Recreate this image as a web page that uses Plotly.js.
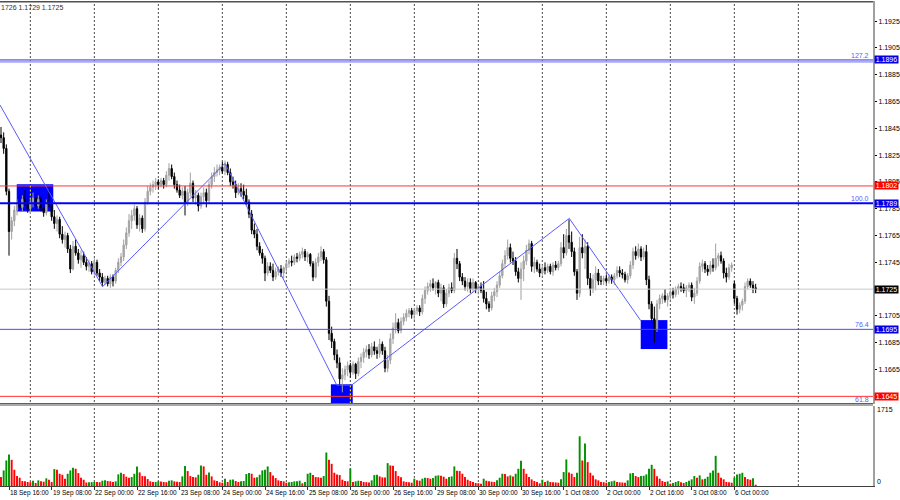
<!DOCTYPE html>
<html><head><meta charset="utf-8">
<script src="https://cdn.plot.ly/plotly-3.0.1.min.js"></script>
<style>html,body{margin:0;padding:0;background:#fff;}#chart{width:900px;height:500px;}</style>
</head><body><div id="chart"></div>
<script>
// ---- data (H1 bars, index 0 = 18 Sep 13:00) ----
const openP = [
1.1840,1.1838,1.1830,1.1798,1.1768,1.1776,1.1784,1.1789,1.1786,1.1792,
1.1790,1.1785,1.1790,1.1793,1.1787,1.1792,1.1786,1.1782,1.1789,1.1788,
1.1779,1.1774,1.1777,1.1766,1.1762,1.1765,1.1755,1.1740,1.1757,1.1752,
1.1747,1.1750,1.1745,1.1742,1.1744,1.1738,1.1745,1.1737,1.1734,1.1730,
1.1733,1.1729,1.1734,1.1731,1.1739,1.1745,1.1749,1.1758,1.1767,1.1776,
1.1780,1.1785,1.1773,1.1778,1.1770,1.1790,1.1798,1.1801,1.1803,1.1805,
1.1803,1.1806,1.1803,1.1810,1.1815,1.1809,1.1803,1.1799,1.1795,1.1798,
1.1790,1.1797,1.1804,1.1793,1.1795,1.1787,1.1794,1.1797,1.1791,1.1803,
1.1809,1.1812,1.1814,1.1816,1.1813,1.1818,1.1812,1.1805,1.1803,1.1797,
1.1800,1.1798,1.1795,1.1790,1.1781,1.1769,1.1766,1.1757,1.1752,1.1748,
1.1737,1.1742,1.1739,1.1734,1.1738,1.1740,1.1737,1.1741,1.1744,1.1746,
1.1745,1.1749,1.1748,1.1751,1.1753,1.1749,1.1751,1.1744,1.1734,1.1745,
1.1749,1.1753,1.1747,1.1716,1.1692,1.1686,1.1676,1.1670,1.1658,1.1661,
1.1665,1.1668,1.1663,1.1669,1.1662,1.1671,1.1674,1.1678,1.1680,1.1676,
1.1682,1.1679,1.1677,1.1684,1.1679,1.1666,1.1672,1.1688,1.1696,1.1700,
1.1694,1.1701,1.1704,1.1707,1.1709,1.1706,1.1709,1.1711,1.1708,1.1718,
1.1724,1.1727,1.1729,1.1726,1.1730,1.1722,1.1726,1.1714,1.1722,1.1726,
1.1724,1.1748,1.1744,1.1734,1.1731,1.1727,1.1730,1.1725,1.1730,1.1725,
1.1727,1.1724,1.1718,1.1714,1.1711,1.1720,1.1723,1.1728,1.1735,1.1744,
1.1750,1.1756,1.1748,1.1746,1.1738,1.1733,1.1740,1.1746,1.1754,1.1759,
1.1742,1.1745,1.1740,1.1737,1.1741,1.1739,1.1742,1.1738,1.1743,1.1741,
1.1744,1.1756,1.1752,1.1765,1.1760,1.1753,1.1738,1.1722,1.1756,1.1752,
1.1757,1.1733,1.1725,1.1732,1.1737,1.1731,1.1731,1.1733,1.1731,1.1734,
1.1732,1.1735,1.1739,1.1737,1.1736,1.1732,1.1735,1.1743,1.1753,1.1750,
1.1755,1.1749,1.1753,1.1732,1.1714,1.1703,1.1695,1.1714,1.1718,1.1720,
1.1717,1.1720,1.1723,1.1721,1.1725,1.1727,1.1726,1.1724,1.1726,1.1728,
1.1719,1.1722,1.1731,1.1742,1.1744,1.1740,1.1738,1.1743,1.1741,1.1748,
1.1750,1.1746,1.1737,1.1734,1.1741,1.1729,1.1718,1.1710,1.1713,1.1716,
1.1727,1.1731,1.1728,1.1726];
const highP = [
1.1846,1.1842,1.1833,1.1800,1.1779,1.1787,1.1792,1.1796,1.1795,1.1799,
1.1794,1.1793,1.1797,1.1796,1.1795,1.1794,1.1790,1.1792,1.1799,1.1791,
1.1784,1.1780,1.1779,1.1772,1.1768,1.1767,1.1758,1.1761,1.1762,1.1755,
1.1754,1.1753,1.1749,1.1747,1.1746,1.1748,1.1747,1.1740,1.1737,1.1735,
1.1735,1.1736,1.1736,1.1741,1.1748,1.1752,1.1762,1.1771,1.1781,1.1784,
1.1788,1.1787,1.1781,1.1780,1.1793,1.1802,1.1804,1.1806,1.1808,1.1807,
1.1808,1.1808,1.1813,1.1819,1.1818,1.1812,1.1806,1.1803,1.1801,1.1802,
1.1800,1.1812,1.1806,1.1799,1.1797,1.1797,1.1801,1.1800,1.1806,1.1812,
1.1816,1.1818,1.1818,1.1820,1.1821,1.1820,1.1815,1.1809,1.1806,1.1804,
1.1804,1.1803,1.1800,1.1792,1.1784,1.1774,1.1770,1.1760,1.1755,1.1750,
1.1745,1.1745,1.1744,1.1741,1.1742,1.1743,1.1742,1.1746,1.1748,1.1750,
1.1751,1.1752,1.1753,1.1756,1.1755,1.1753,1.1752,1.1746,1.1748,1.1752,
1.1757,1.1755,1.1749,1.1720,1.1697,1.1688,1.1680,1.1674,1.1666,1.1668,
1.1671,1.1670,1.1671,1.1670,1.1674,1.1677,1.1681,1.1683,1.1684,1.1685,
1.1686,1.1682,1.1688,1.1686,1.1682,1.1676,1.1692,1.1700,1.1707,1.1703,
1.1704,1.1707,1.1710,1.1711,1.1711,1.1711,1.1713,1.1713,1.1721,1.1727,
1.1730,1.1732,1.1733,1.1731,1.1732,1.1729,1.1728,1.1725,1.1729,1.1730,
1.1752,1.1755,1.1746,1.1737,1.1734,1.1733,1.1733,1.1733,1.1731,1.1729,
1.1730,1.1731,1.1723,1.1716,1.1723,1.1726,1.1731,1.1738,1.1747,1.1754,
1.1762,1.1759,1.1753,1.1749,1.1741,1.1745,1.1750,1.1758,1.1762,1.1761,
1.1749,1.1747,1.1744,1.1743,1.1745,1.1744,1.1744,1.1745,1.1746,1.1746,
1.1760,1.1766,1.1770,1.1777,1.1768,1.1756,1.1740,1.1764,1.1766,1.1762,
1.1760,1.1737,1.1736,1.1742,1.1740,1.1735,1.1735,1.1736,1.1736,1.1736,
1.1737,1.1742,1.1742,1.1740,1.1738,1.1737,1.1746,1.1756,1.1757,1.1759,
1.1757,1.1756,1.1758,1.1735,1.1716,1.1712,1.1717,1.1721,1.1722,1.1725,
1.1722,1.1726,1.1726,1.1727,1.1729,1.1730,1.1729,1.1728,1.1730,1.1730,
1.1726,1.1734,1.1745,1.1747,1.1746,1.1743,1.1746,1.1748,1.1759,1.1752,
1.1753,1.1748,1.1741,1.1744,1.1745,1.1731,1.1720,1.1715,1.1718,1.1730,
1.1733,1.1733,1.1731,1.1729];
const lowP = [
1.1834,1.1826,1.1795,1.1750,1.1762,1.1772,1.1780,1.1784,1.1783,1.1787,
1.1782,1.1781,1.1786,1.1784,1.1785,1.1783,1.1779,1.1780,1.1786,1.1776,
1.1770,1.1768,1.1763,1.1759,1.1756,1.1752,1.1737,1.1739,1.1750,1.1744,
1.1741,1.1743,1.1739,1.1738,1.1736,1.1735,1.1735,1.1731,1.1727,1.1728,
1.1727,1.1726,1.1727,1.1729,1.1737,1.1742,1.1746,1.1755,1.1764,1.1770,
1.1776,1.1770,1.1768,1.1767,1.1768,1.1788,1.1795,1.1797,1.1799,1.1800,
1.1801,1.1800,1.1801,1.1806,1.1807,1.1800,1.1797,1.1793,1.1792,1.1780,
1.1787,1.1794,1.1790,1.1788,1.1783,1.1785,1.1789,1.1786,1.1789,1.1800,
1.1805,1.1809,1.1810,1.1811,1.1810,1.1810,1.1802,1.1800,1.1793,1.1795,
1.1794,1.1792,1.1788,1.1778,1.1766,1.1763,1.1754,1.1750,1.1744,1.1731,
1.1735,1.1737,1.1731,1.1732,1.1735,1.1734,1.1733,1.1738,1.1741,1.1742,
1.1743,1.1745,1.1746,1.1748,1.1746,1.1745,1.1742,1.1731,1.1733,1.1742,
1.1746,1.1744,1.1712,1.1687,1.1681,1.1672,1.1666,1.1652,1.1648,1.1657,
1.1660,1.1659,1.1661,1.1658,1.1660,1.1666,1.1670,1.1674,1.1673,1.1674,
1.1676,1.1673,1.1674,1.1676,1.1663,1.1663,1.1669,1.1684,1.1692,1.1692,
1.1692,1.1698,1.1701,1.1704,1.1703,1.1702,1.1706,1.1705,1.1706,1.1714,
1.1721,1.1723,1.1724,1.1721,1.1719,1.1716,1.1711,1.1712,1.1719,1.1722,
1.1722,1.1740,1.1731,1.1728,1.1724,1.1723,1.1722,1.1723,1.1722,1.1721,
1.1722,1.1715,1.1710,1.1708,1.1709,1.1716,1.1719,1.1726,1.1733,1.1741,
1.1747,1.1745,1.1743,1.1735,1.1730,1.1717,1.1731,1.1743,1.1751,1.1738,
1.1737,1.1738,1.1734,1.1735,1.1736,1.1737,1.1736,1.1735,1.1739,1.1739,
1.1742,1.1748,1.1750,1.1755,1.1749,1.1735,1.1717,1.1719,1.1748,1.1740,
1.1728,1.1720,1.1722,1.1724,1.1728,1.1728,1.1728,1.1729,1.1729,1.1729,
1.1728,1.1733,1.1734,1.1733,1.1730,1.1729,1.1733,1.1740,1.1747,1.1748,
1.1746,1.1747,1.1728,1.1710,1.1700,1.1685,1.1693,1.1710,1.1714,1.1715,
1.1712,1.1717,1.1718,1.1719,1.1721,1.1723,1.1722,1.1719,1.1723,1.1716,
1.1714,1.1720,1.1729,1.1738,1.1737,1.1735,1.1736,1.1738,1.1739,1.1742,
1.1744,1.1733,1.1730,1.1732,1.1738,1.1714,1.1706,1.1707,1.1709,1.1714,
1.1725,1.1726,1.1722,1.1722];
const closeP = [
1.1838,1.1830,1.1798,1.1768,1.1776,1.1784,1.1789,1.1786,1.1792,1.1790,
1.1785,1.1790,1.1793,1.1787,1.1792,1.1786,1.1782,1.1789,1.1788,1.1779,
1.1774,1.1777,1.1766,1.1762,1.1765,1.1755,1.1740,1.1757,1.1752,1.1747,
1.1750,1.1745,1.1742,1.1744,1.1738,1.1745,1.1737,1.1734,1.1730,1.1733,
1.1729,1.1734,1.1731,1.1739,1.1745,1.1749,1.1758,1.1767,1.1776,1.1780,
1.1785,1.1773,1.1778,1.1770,1.1790,1.1798,1.1801,1.1803,1.1805,1.1803,
1.1806,1.1803,1.1810,1.1815,1.1809,1.1803,1.1799,1.1795,1.1798,1.1790,
1.1797,1.1804,1.1793,1.1795,1.1787,1.1794,1.1797,1.1791,1.1803,1.1809,
1.1812,1.1814,1.1816,1.1813,1.1818,1.1812,1.1805,1.1803,1.1797,1.1800,
1.1798,1.1795,1.1790,1.1781,1.1769,1.1766,1.1757,1.1752,1.1748,1.1737,
1.1742,1.1739,1.1734,1.1738,1.1740,1.1737,1.1741,1.1744,1.1746,1.1745,
1.1749,1.1748,1.1751,1.1753,1.1749,1.1751,1.1744,1.1734,1.1745,1.1749,
1.1753,1.1747,1.1716,1.1692,1.1686,1.1676,1.1670,1.1658,1.1661,1.1665,
1.1668,1.1663,1.1669,1.1662,1.1671,1.1674,1.1678,1.1680,1.1676,1.1682,
1.1679,1.1677,1.1684,1.1679,1.1666,1.1672,1.1688,1.1696,1.1700,1.1694,
1.1701,1.1704,1.1707,1.1709,1.1706,1.1709,1.1711,1.1708,1.1718,1.1724,
1.1727,1.1729,1.1726,1.1730,1.1722,1.1726,1.1714,1.1722,1.1726,1.1724,
1.1748,1.1744,1.1734,1.1731,1.1727,1.1730,1.1725,1.1730,1.1725,1.1727,
1.1724,1.1718,1.1714,1.1711,1.1720,1.1723,1.1728,1.1735,1.1744,1.1750,
1.1756,1.1748,1.1746,1.1738,1.1733,1.1740,1.1746,1.1754,1.1759,1.1742,
1.1745,1.1740,1.1737,1.1741,1.1739,1.1742,1.1738,1.1743,1.1741,1.1744,
1.1756,1.1752,1.1765,1.1760,1.1753,1.1738,1.1722,1.1756,1.1752,1.1757,
1.1733,1.1725,1.1732,1.1737,1.1731,1.1731,1.1733,1.1731,1.1734,1.1732,
1.1735,1.1739,1.1737,1.1736,1.1732,1.1735,1.1743,1.1753,1.1750,1.1755,
1.1749,1.1753,1.1732,1.1714,1.1703,1.1695,1.1714,1.1718,1.1720,1.1717,
1.1720,1.1723,1.1721,1.1725,1.1727,1.1726,1.1724,1.1726,1.1728,1.1719,
1.1722,1.1731,1.1742,1.1744,1.1740,1.1738,1.1743,1.1741,1.1748,1.1750,
1.1746,1.1737,1.1734,1.1741,1.1743,1.1718,1.1710,1.1713,1.1716,1.1727,
1.1731,1.1728,1.1726,1.1725];
const tickVolume = [
198,345,565,697,579,359,220,183,110,105,
88,85,117,66,125,103,95,169,139,88,
374,359,271,249,161,271,345,403,381,286,
183,139,77,81,86,90,88,84,117,125,
110,103,88,103,257,293,264,205,183,198,
271,433,301,220,216,154,103,88,92,103,
97,88,84,117,125,103,95,88,213,440,
330,220,198,191,249,455,433,249,301,213,
125,110,81,73,161,88,139,145,110,88,
103,110,264,286,271,183,194,249,345,359,
433,308,235,176,125,110,103,73,81,88,
103,107,117,59,88,271,293,242,198,194,
183,220,741,579,491,293,257,242,139,110,
103,389,88,103,117,110,88,84,79,125,
242,249,213,191,187,506,455,447,330,220,
191,103,88,84,73,161,125,117,161,183,
176,161,176,227,235,227,205,161,198,213,
433,337,330,271,198,139,110,88,66,62,
51,161,117,103,95,88,125,183,271,264,
213,235,209,271,381,557,381,271,198,147,
110,88,59,139,88,117,88,84,79,73,
147,308,587,301,271,198,293,1100,565,939,
528,293,235,147,125,88,84,73,88,103,
117,88,81,77,73,125,279,286,220,198,
220,227,257,381,469,381,213,161,110,88,
103,51,66,88,110,81,66,88,117,147,
220,183,235,147,161,205,293,345,667,293,
183,147,88,84,73,183,257,271,293,198,
154,139,169,29];

const dateLabels = ["18 Sep 16:00","19 Sep 08:00","22 Sep 00:00","22 Sep 16:00","23 Sep 08:00",
  "24 Sep 00:00","24 Sep 16:00","25 Sep 08:00","26 Sep 00:00","26 Sep 16:00","29 Sep 08:00",
  "30 Sep 00:00","30 Sep 16:00","1 Oct 08:00","2 Oct 00:00","2 Oct 16:00","3 Oct 08:00","6 Oct 00:00"];
const dateLabelBars = [3,19,35,51,67,83,99,115,131,147,163,179,195,211,227,243,259,275];
const dayGridBars = [11,35,59,83,107,131,155,179,203,227,251,275,299];
const priceTicks = [1.1645,1.1665,1.1685,1.1705,1.1725,1.1745,1.1765,1.1785,1.1805,1.1825,1.1845,1.1865,1.1885,1.1905,1.1925];

const zigzagBars   = [-0.375, 38.1, 84.0, 125.9, 131.5, 213.1, 239.9];
const zigzagPrices = [1.18624, 1.17268, 1.18189, 1.16534, 1.16534, 1.17778, 1.17015];

const zoneStartBars = [5.9, 123.7, 239.9];
const zoneEndBars   = [19.6, 131.9, 249.9];
const zoneLows      = [1.17829, 1.16398, 1.16803];
const zoneHighs     = [1.18032, 1.16540, 1.17019];
const zoneGridBars  = [11, 131, null];

const levelPrices = [1.1896, 1.1802, 1.1789, 1.1725, 1.1695, 1.1645];
const fibNames    = ["127.2", "100.0", "76.4", "61.8"];
const fibPrices   = [1.1896, 1.1789, 1.1695, 1.1639];
const volumeScaleMax = 1715;
const headerText = "1726 1.1729 1.1725";

// ---- geometry helpers (plot area: y from 1px to 486px) ----
const PLOT_TOP = 1, PLOT_BOTTOM = 486, PLOT_H = PLOT_BOTTOM - PLOT_TOP;
const pxToPaper = px => (PLOT_BOTTOM - px) / PLOT_H;
const PRICE_BOTTOM_PX = 404, VOL_TOP_PX = 406;
const priceRange = [1.16393, 1.1940];
const priceToPx = p => PLOT_TOP + (priceRange[1] - p) / (priceRange[1] - priceRange[0]) * (PRICE_BOTTOM_PX - PLOT_TOP);

// ---- build ----
const bars = closeP.map((_, i) => i);
const volColors = tickVolume.map((v, i) => (i > 0 && v > tickVolume[i - 1]) ? '#009000' : '#ff0000');

const levelStyle = [
  {line:'#2a2ad8', w:1, box:'#0000e6'},
  {line:'#ff3434', w:1, box:'#ff0000'},
  {line:'#0000ff', w:2, box:'#0000e6'},
  {line:'#c8c8c8', w:1, box:'#000000'},
  {line:'#4848ff', w:1, box:'#0000e6'},
  {line:'#ff3434', w:1, box:'#ff0000'}
];
// tick labels fully covered by a level box are not visible in the source
const tickText = priceTicks.map(v => levelPrices.some(p => Math.abs(p - v) < 0.0002) ? '' : v.toFixed(4));

const shapes = [];
dayGridBars.forEach(b => shapes.push({type:'line', xref:'x', yref:'paper', x0:b, x1:b, y0:0, y1:1,
  line:{color:'#4a4a4a', width:1, dash:'2px,2px'}, layer:'below'}));
zoneStartBars.forEach((s, i) => {
  shapes.push({type:'rect', xref:'x', yref:'y', x0:s, x1:zoneEndBars[i], y0:zoneLows[i], y1:zoneHighs[i],
    fillcolor:'#0000ff', line:{width:0}, layer:'below'});
  if (zoneGridBars[i] !== null) shapes.push({type:'line', xref:'x', yref:'y', x0:zoneGridBars[i], x1:zoneGridBars[i],
    y0:zoneLows[i], y1:zoneHighs[i], line:{color:'#ffff00', width:1, dash:'2px,2px'}, layer:'below'});
});
levelPrices.forEach((p, i) => {
  shapes.push({type:'line', xref:'paper', yref:'y', x0:0, x1:1, y0:p, y1:p,
    line:{color:levelStyle[i].line, width:levelStyle[i].w}, layer:'above'});
});
shapes.push({type:'line', xref:'paper', yref:'y', x0:0, x1:1, y0:levelPrices[0]-0.00013, y1:levelPrices[0]-0.00013,
  line:{color:'#a9a9ff', width:2}, layer:'above'});
shapes.push({type:'line', xref:'paper', yref:'paper', x0:0, x1:1, y0:0.9985, y1:0.9985, line:{color:'#505050', width:1.5}});
shapes.push({type:'line', xref:'paper', yref:'paper', x0:0, x1:1, y0:pxToPaper(403.5), y1:pxToPaper(403.5), line:{color:'#606060', width:1}});
shapes.push({type:'line', xref:'paper', yref:'paper', x0:0, x1:1, y0:pxToPaper(405), y1:pxToPaper(405), line:{color:'#a8a8a8', width:2}});

const annotations = [];
const fnt = 'Liberation Sans, Arial, sans-serif';
levelPrices.forEach((p, i) => annotations.push({xref:'paper', yref:'y', x:1, y:p, xanchor:'left', yanchor:'middle',
  xshift:1, text:p.toFixed(4), showarrow:false, bgcolor:levelStyle[i].box, width:23, height:7, borderpad:0,
  font:{family:fnt, size:7, color:'#ffffff'}}));
fibNames.forEach((t, i) => annotations.push({xref:'paper', yref:'paper', x:1,
  y:pxToPaper(priceToPx(fibPrices[i]) - 4.5), xanchor:'right', yanchor:'middle',
  xshift:-2, text:t, showarrow:false, font:{family:fnt, size:7, color:'#5a5aff'}}));
dateLabels.forEach((t, i) => annotations.push({xref:'x', yref:'paper', x:dateLabelBars[i], y:0, xanchor:'left', yanchor:'top',
  xshift:-1, yshift:-1, text:t, showarrow:false, font:{family:fnt, size:6.5, color:'#000'}}));
annotations.push({xref:'paper', yref:'paper', x:1, y:pxToPaper(409.5), xanchor:'left', yanchor:'middle', xshift:2,
  text:String(volumeScaleMax), showarrow:false, font:{family:fnt, size:7, color:'#000'}});
annotations.push({xref:'paper', yref:'paper', x:1, y:pxToPaper(481.5), xanchor:'left', yanchor:'middle', xshift:2,
  text:'0', showarrow:false, font:{family:fnt, size:7, color:'#000'}});
annotations.push({xref:'paper', yref:'paper', x:0, y:1, xanchor:'left', yanchor:'top', xshift:-1, yshift:-1,
  text:headerText, showarrow:false, font:{family:fnt, size:7, color:'#303030'}});

const traces = [
  {type:'candlestick', x:bars, open:openP, high:highP, low:lowP, close:closeP, xaxis:'x', yaxis:'y',
   increasing:{line:{color:'#a0a0a0', width:1}, fillcolor:'#b0b0b0'},
   decreasing:{line:{color:'#000000', width:1}, fillcolor:'#000000'},
   whiskerwidth:0, hoverinfo:'skip'},
  {type:'scatter', mode:'lines', x:zigzagBars, y:zigzagPrices, xaxis:'x', yaxis:'y',
   line:{color:'#5a5aff', width:1}, hoverinfo:'skip'},
  {type:'bar', x:bars, y:tickVolume, xaxis:'x', yaxis:'y2', width:0.72,
   marker:{color:volColors, line:{width:0}}, hoverinfo:'skip'}
];

const layout = {
  width:900, height:500, margin:{l:0, r:27, t:PLOT_TOP, b:500 - PLOT_BOTTOM, pad:0},
  paper_bgcolor:'#ffffff', plot_bgcolor:'#ffffff', showlegend:false, hovermode:false, dragmode:false,
  font:{family:fnt, size:7, color:'#000'},
  xaxis:{range:[-0.375, 327], anchor:'y2', showgrid:false, zeroline:false, rangeslider:{visible:false},
    tickvals:dateLabelBars, ticks:'outside', ticklen:3, tickcolor:'#333', showticklabels:false,
    showline:true, linecolor:'#404040', linewidth:1, fixedrange:true},
  yaxis:{domain:[pxToPaper(PRICE_BOTTOM_PX), 1], range:priceRange, side:'right', anchor:'x',
    tickvals:priceTicks, ticktext:tickText, ticks:'outside', ticklen:2, tickcolor:'#000',
    tickfont:{family:fnt, size:7, color:'#000'}, showgrid:false, zeroline:false,
    showline:true, linecolor:'#a0a0a0', linewidth:2, fixedrange:true},
  yaxis2:{domain:[0, pxToPaper(VOL_TOP_PX)], range:[0, 1770], side:'right', anchor:'x', showticklabels:false, ticks:'',
    showgrid:false, zeroline:false, showline:true, linecolor:'#a0a0a0', linewidth:2, fixedrange:true},
  shapes:shapes, annotations:annotations
};

Plotly.newPlot('chart', traces, layout, {staticPlot:true, displayModeBar:false});
</script>
</body></html>
